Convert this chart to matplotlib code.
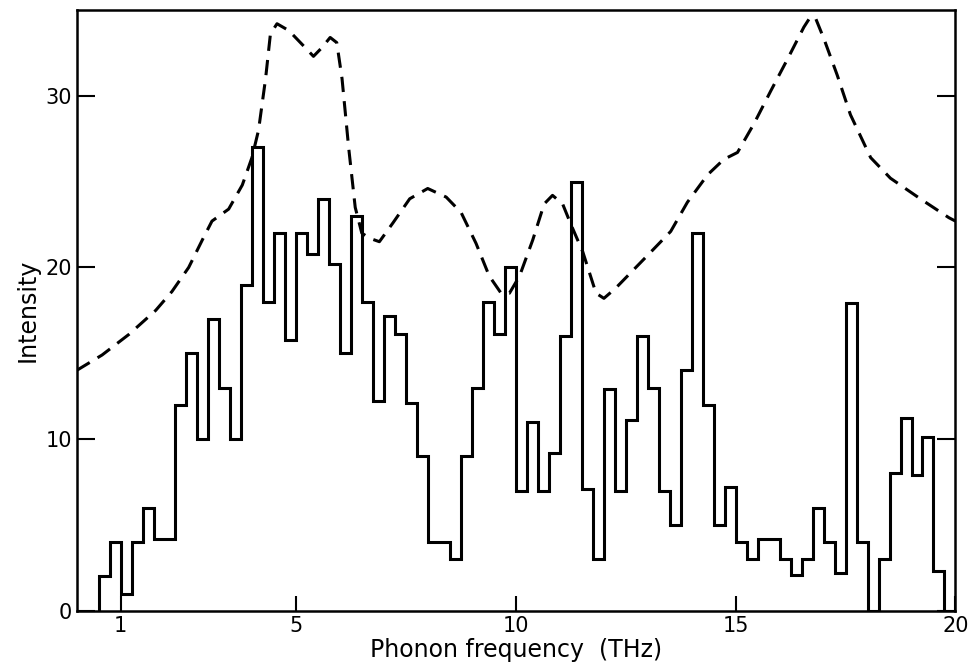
import numpy as np
import matplotlib.pyplot as plt

# histogram, 0.25 THz bins starting at 0.5 THz
bin_start = 0.5
bin_width = 0.25
counts = [2, 4, 1, 4, 6, 4.2, 4.2, 12, 15, 10,
          17, 13, 10, 19, 27, 18, 22, 15.8, 22, 20.8,
          24, 20.2, 15, 23, 18, 12.2, 17.2, 16.1, 12.1, 9,
          4, 4, 3, 9, 13, 18, 16.1, 20, 7, 11,
          7, 9.2, 16, 25, 7.1, 3, 12.9, 7, 11.1, 16,
          13, 7, 5, 14, 22, 12, 5, 7.2, 4, 3,
          4.2, 4.2, 3, 2.1, 3, 6, 4, 2.2, 17.9, 4,
          0, 3, 8, 11.2, 7.9, 10.1, 2.3]

# dashed curve (calculated spectrum)
curve_f = [0.0, 0.58, 1.19, 1.8, 2.17, 2.55, 2.86, 3.08, 3.46, 3.77,
           3.99, 4.14, 4.3, 4.41, 4.56, 4.83, 5.13, 5.39, 5.58, 5.77,
           5.92, 6.04, 6.19, 6.34, 6.49, 6.67, 6.89, 7.2, 7.58, 7.99,
           8.41, 8.75, 9.09, 9.39, 9.66, 9.85, 10.08, 10.38, 10.64, 10.83,
           11.06, 11.25, 11.52, 11.82, 12.0, 12.27, 12.65, 13.03, 13.52, 13.9,
           14.36, 14.73, 15.04, 15.42, 15.8, 16.17, 16.55, 16.7, 16.82, 17.01,
           17.31, 17.61, 18.07, 18.52, 19.2, 19.85, 20.0]
curve_i = [14.0, 14.9, 16.1, 17.5, 18.6, 20.0, 21.6, 22.7, 23.4, 24.8,
           26.4, 28.0, 31.0, 33.6, 34.2, 33.8, 33.0, 32.3, 32.8, 33.4,
           33.1, 31.0, 27.0, 23.5, 22.0, 21.7, 21.5, 22.6, 24.0, 24.6,
           24.1, 23.2, 21.4, 19.5, 18.5, 18.5, 19.5, 21.6, 23.7, 24.2,
           23.7, 22.5, 20.9, 18.5, 18.2, 18.8, 19.8, 20.8, 22.1, 23.8,
           25.4, 26.3, 26.7, 28.4, 30.3, 32.1, 34.0, 34.6, 34.5, 33.3,
           31.2, 28.9, 26.4, 25.2, 24.0, 22.9, 22.7]

edges = bin_start + bin_width * np.arange(len(counts) + 1)

fig = plt.figure(figsize=(9.7, 6.66), dpi=100)
ax = fig.add_axes([0.079, 0.083, 0.906, 0.902])

ax.stairs(counts, edges, baseline=0, color='black', linewidth=2.2)
ax.plot(curve_f, curve_i, color='black', linewidth=2.2, linestyle=(0, (5, 3)))

ax.set_xlim(0, 20)
ax.set_ylim(0, 35)
ax.set_xticks([1, 5, 10, 15, 20])
ax.set_yticks([0, 10, 20, 30])
ax.tick_params(direction='in', length=11, width=1.5, labelsize=15,
               left=True, right=True, top=False)
ax.tick_params(axis='y', length=13)
for s in ax.spines.values():
    s.set_linewidth(1.8)

ax.set_xlabel('Phonon frequency  (THz)', fontsize=17, labelpad=2)
ax.set_ylabel('Intensity', fontsize=17, labelpad=4)

fig.savefig('out.png', dpi=100)
